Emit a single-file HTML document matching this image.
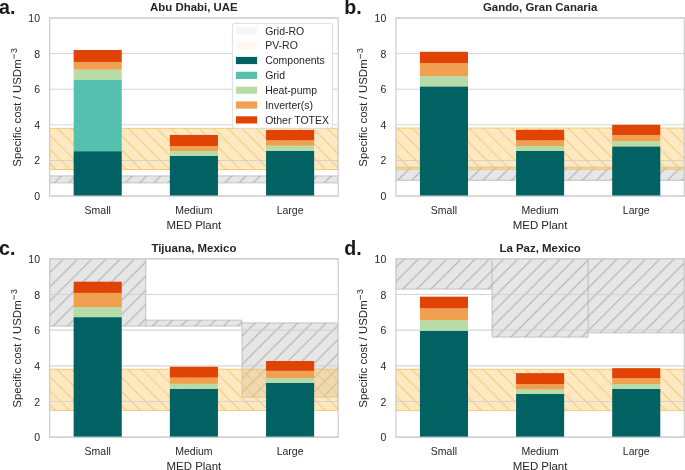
<!DOCTYPE html>
<html><head><meta charset="utf-8"><style>
html,body{margin:0;padding:0;background:#fff;}
svg{display:block;will-change:transform;}
text{font-family:"Liberation Sans",sans-serif;fill:#262626;}
.tk{font-size:10.5px;}
.lg{font-size:10.5px;}
.lb{font-size:11.45px;}
.sup{font-size:8.8px;}
.tt{font-size:11.45px;font-weight:bold;}
.pl{font-size:19.6px;font-weight:bold;fill:#1a1a1a;}
</style></head><body>
<svg width="685" height="470" viewBox="0 0 685 470">
<defs>
<pattern id="hg0" patternUnits="userSpaceOnUse" width="14.2" height="14.2" x="10.1" y="0">
<path d="M-1,1 L1,-1 M0,14.2 L14.2,0 M13.2,15.2 L15.2,13.2" stroke="#a0a0a0" stroke-width="1.05" stroke-opacity="0.8"/></pattern>
<pattern id="ho0" patternUnits="userSpaceOnUse" width="14.2" height="14.2" x="0.0" y="0">
<path d="M-1,13.2 L1,15.2 M0,0 L14.2,14.2 M13.2,-1 L15.2,1" stroke="#edc96c" stroke-width="1.05" stroke-opacity="0.9"/></pattern>
<pattern id="hg1" patternUnits="userSpaceOnUse" width="14.2" height="14.2" x="10.1" y="0">
<path d="M-1,1 L1,-1 M0,14.2 L14.2,0 M13.2,15.2 L15.2,13.2" stroke="#a0a0a0" stroke-width="1.05" stroke-opacity="0.8"/></pattern>
<pattern id="ho1" patternUnits="userSpaceOnUse" width="14.2" height="14.2" x="0.0" y="0">
<path d="M-1,13.2 L1,15.2 M0,0 L14.2,14.2 M13.2,-1 L15.2,1" stroke="#edc96c" stroke-width="1.05" stroke-opacity="0.9"/></pattern>
<pattern id="hg2" patternUnits="userSpaceOnUse" width="14.2" height="14.2" x="10.1" y="0">
<path d="M-1,1 L1,-1 M0,14.2 L14.2,0 M13.2,15.2 L15.2,13.2" stroke="#a0a0a0" stroke-width="1.05" stroke-opacity="0.8"/></pattern>
<pattern id="ho2" patternUnits="userSpaceOnUse" width="14.2" height="14.2" x="0.0" y="0">
<path d="M-1,13.2 L1,15.2 M0,0 L14.2,14.2 M13.2,-1 L15.2,1" stroke="#edc96c" stroke-width="1.05" stroke-opacity="0.9"/></pattern>
<pattern id="hg3" patternUnits="userSpaceOnUse" width="14.2" height="14.2" x="10.1" y="0">
<path d="M-1,1 L1,-1 M0,14.2 L14.2,0 M13.2,15.2 L15.2,13.2" stroke="#a0a0a0" stroke-width="1.05" stroke-opacity="0.8"/></pattern>
<pattern id="ho3" patternUnits="userSpaceOnUse" width="14.2" height="14.2" x="0.0" y="0">
<path d="M-1,13.2 L1,15.2 M0,0 L14.2,14.2 M13.2,-1 L15.2,1" stroke="#edc96c" stroke-width="1.05" stroke-opacity="0.9"/></pattern>
<clipPath id="clip0"><rect x="49.6" y="17.95" width="288.6" height="178.1"/></clipPath>
<clipPath id="clip1"><rect x="395.9" y="17.95" width="288.4" height="178.1"/></clipPath>
<clipPath id="clip2"><rect x="49.6" y="258.85" width="288.6" height="178.3"/></clipPath>
<clipPath id="clip3"><rect x="395.9" y="258.85" width="288.4" height="178.3"/></clipPath>
</defs>
<rect width="685" height="470" fill="#fff"/>
<g clip-path="url(#clip0)">
<rect x="49.6" y="175.8" width="288.6" height="7" fill="rgba(128,128,128,0.2)"/>
<rect x="49.6" y="175.8" width="288.6" height="7" fill="url(#hg0)"/>
<path d="M49.6,175.8H338.2M49.6,182.8H338.2M49.6,175.8V182.8M338.2,175.8V182.8" fill="none" stroke="rgba(160,160,160,0.45)" stroke-width="1.3"/>
<rect x="49.6" y="128.37" width="288.6" height="41.14" fill="rgba(253,200,110,0.42)"/>
<rect x="49.6" y="128.37" width="288.6" height="41.14" fill="url(#ho0)"/>
<rect x="49.6" y="128.37" width="288.6" height="41.14" fill="none" stroke="rgba(240,190,90,0.75)" stroke-width="1"/>
</g>
<line x1="49.6" x2="338.2" y1="196.05" y2="196.05" stroke="#cfcfcf" stroke-width="1.1" stroke-opacity="0.85"/>
<line x1="49.6" x2="338.2" y1="160.43" y2="160.43" stroke="#cfcfcf" stroke-width="1.1" stroke-opacity="0.85"/>
<line x1="49.6" x2="338.2" y1="124.81" y2="124.81" stroke="#cfcfcf" stroke-width="1.1" stroke-opacity="0.85"/>
<line x1="49.6" x2="338.2" y1="89.19" y2="89.19" stroke="#cfcfcf" stroke-width="1.1" stroke-opacity="0.85"/>
<line x1="49.6" x2="338.2" y1="53.57" y2="53.57" stroke="#cfcfcf" stroke-width="1.1" stroke-opacity="0.85"/>
<line x1="49.6" x2="338.2" y1="17.95" y2="17.95" stroke="#cfcfcf" stroke-width="1.1" stroke-opacity="0.85"/>
<rect x="73.65" y="151.17" width="48.1" height="44.88" fill="#026263"/>
<rect x="73.65" y="79.93" width="48.1" height="71.24" fill="#55c0ad"/>
<rect x="73.65" y="69.6" width="48.1" height="10.33" fill="#b8dca8"/>
<rect x="73.65" y="61.94" width="48.1" height="7.66" fill="#f0a050"/>
<rect x="73.65" y="50.01" width="48.1" height="11.93" fill="#e04404"/>
<rect x="169.85" y="155.8" width="48.1" height="40.25" fill="#026263"/>
<rect x="169.85" y="150.99" width="48.1" height="4.81" fill="#b8dca8"/>
<rect x="169.85" y="146" width="48.1" height="4.99" fill="#f0a050"/>
<rect x="169.85" y="134.96" width="48.1" height="11.04" fill="#e04404"/>
<rect x="266.05" y="150.81" width="48.1" height="45.24" fill="#026263"/>
<rect x="266.05" y="145.65" width="48.1" height="5.16" fill="#b8dca8"/>
<rect x="266.05" y="140.3" width="48.1" height="5.34" fill="#f0a050"/>
<rect x="266.05" y="129.97" width="48.1" height="10.33" fill="#e04404"/>
<rect x="49.6" y="17.95" width="288.6" height="178.1" fill="none" stroke="#cccccc" stroke-width="1.2"/>
<text x="40" y="200.1" text-anchor="end" class="tk">0</text>
<text x="40" y="164.48" text-anchor="end" class="tk">2</text>
<text x="40" y="128.86" text-anchor="end" class="tk">4</text>
<text x="40" y="93.24" text-anchor="end" class="tk">6</text>
<text x="40" y="57.62" text-anchor="end" class="tk">8</text>
<text x="40" y="22" text-anchor="end" class="tk">10</text>
<text x="97.7" y="214.05" text-anchor="middle" class="tk">Small</text>
<text x="193.9" y="214.05" text-anchor="middle" class="tk">Medium</text>
<text x="290.1" y="214.05" text-anchor="middle" class="tk">Large</text>
<text x="193.9" y="228.85" text-anchor="middle" class="lb">MED Plant</text>
<text transform="translate(20.9,166.75) rotate(-90)" class="lb">Specific cost / USDm</text>
<line x1="14.1" x2="14.1" y1="58.8" y2="54" stroke="#262626" stroke-width="0.75"/>
<text transform="translate(17,53.1) rotate(-90)" class="sup">3</text>
<text x="193.9" y="11.25" text-anchor="middle" class="tt">Abu Dhabi, UAE</text>
<text x="-1" y="13.6" class="pl">a.</text>
<g clip-path="url(#clip1)">
<rect x="395.9" y="167.2" width="288.4" height="13.18" fill="rgba(128,128,128,0.2)"/>
<rect x="395.9" y="167.2" width="288.4" height="13.18" fill="url(#hg1)"/>
<path d="M395.9,167.2H684.3M395.9,180.38H684.3M395.9,167.2V180.38M684.3,167.2V180.38" fill="none" stroke="rgba(160,160,160,0.45)" stroke-width="1.3"/>
<rect x="395.9" y="128.02" width="288.4" height="41.32" fill="rgba(253,200,110,0.42)"/>
<rect x="395.9" y="128.02" width="288.4" height="41.32" fill="url(#ho1)"/>
<rect x="395.9" y="128.02" width="288.4" height="41.32" fill="none" stroke="rgba(240,190,90,0.75)" stroke-width="1"/>
</g>
<line x1="395.9" x2="684.3" y1="196.05" y2="196.05" stroke="#cfcfcf" stroke-width="1.1" stroke-opacity="0.85"/>
<line x1="395.9" x2="684.3" y1="160.43" y2="160.43" stroke="#cfcfcf" stroke-width="1.1" stroke-opacity="0.85"/>
<line x1="395.9" x2="684.3" y1="124.81" y2="124.81" stroke="#cfcfcf" stroke-width="1.1" stroke-opacity="0.85"/>
<line x1="395.9" x2="684.3" y1="89.19" y2="89.19" stroke="#cfcfcf" stroke-width="1.1" stroke-opacity="0.85"/>
<line x1="395.9" x2="684.3" y1="53.57" y2="53.57" stroke="#cfcfcf" stroke-width="1.1" stroke-opacity="0.85"/>
<line x1="395.9" x2="684.3" y1="17.95" y2="17.95" stroke="#cfcfcf" stroke-width="1.1" stroke-opacity="0.85"/>
<rect x="419.93" y="86.34" width="48.07" height="109.71" fill="#026263"/>
<rect x="419.93" y="76.01" width="48.07" height="10.33" fill="#b8dca8"/>
<rect x="419.93" y="63.01" width="48.07" height="13" fill="#f0a050"/>
<rect x="419.93" y="51.79" width="48.07" height="11.22" fill="#e04404"/>
<rect x="516.07" y="150.99" width="48.07" height="45.06" fill="#026263"/>
<rect x="516.07" y="146" width="48.07" height="4.99" fill="#b8dca8"/>
<rect x="516.07" y="140.3" width="48.07" height="5.7" fill="#f0a050"/>
<rect x="516.07" y="129.8" width="48.07" height="10.51" fill="#e04404"/>
<rect x="612.2" y="146.36" width="48.07" height="49.69" fill="#026263"/>
<rect x="612.2" y="141.2" width="48.07" height="5.16" fill="#b8dca8"/>
<rect x="612.2" y="134.96" width="48.07" height="6.23" fill="#f0a050"/>
<rect x="612.2" y="124.81" width="48.07" height="10.15" fill="#e04404"/>
<rect x="395.9" y="17.95" width="288.4" height="178.1" fill="none" stroke="#cccccc" stroke-width="1.2"/>
<text x="386.3" y="200.1" text-anchor="end" class="tk">0</text>
<text x="386.3" y="164.48" text-anchor="end" class="tk">2</text>
<text x="386.3" y="128.86" text-anchor="end" class="tk">4</text>
<text x="386.3" y="93.24" text-anchor="end" class="tk">6</text>
<text x="386.3" y="57.62" text-anchor="end" class="tk">8</text>
<text x="386.3" y="22" text-anchor="end" class="tk">10</text>
<text x="443.97" y="214.05" text-anchor="middle" class="tk">Small</text>
<text x="540.1" y="214.05" text-anchor="middle" class="tk">Medium</text>
<text x="636.23" y="214.05" text-anchor="middle" class="tk">Large</text>
<text x="540.1" y="228.85" text-anchor="middle" class="lb">MED Plant</text>
<text transform="translate(367.2,166.75) rotate(-90)" class="lb">Specific cost / USDm</text>
<line x1="360.4" x2="360.4" y1="58.8" y2="54" stroke="#262626" stroke-width="0.75"/>
<text transform="translate(363.3,53.1) rotate(-90)" class="sup">3</text>
<text x="540.1" y="11.25" text-anchor="middle" class="tt">Gando, Gran Canaria</text>
<text x="344.2" y="13.6" class="pl">b.</text>
<g clip-path="url(#clip2)">
<rect x="49.6" y="249.94" width="96.2" height="76.13" fill="rgba(128,128,128,0.2)"/>
<rect x="49.6" y="249.94" width="96.2" height="76.13" fill="url(#hg2)"/>
<rect x="145.8" y="320.19" width="96.2" height="5.88" fill="rgba(128,128,128,0.2)"/>
<rect x="145.8" y="320.19" width="96.2" height="5.88" fill="url(#hg2)"/>
<rect x="242" y="322.86" width="96.2" height="74.17" fill="rgba(128,128,128,0.2)"/>
<rect x="242" y="322.86" width="96.2" height="74.17" fill="url(#hg2)"/>
<path d="M49.6,249.94H145.8M49.6,326.07H145.8M145.8,320.19H242M145.8,326.07H242M242,322.86H338.2M242,397.03H338.2M49.6,249.94V326.07M145.8,249.94V326.07M242,320.19V397.03M338.2,322.86V397.03" fill="none" stroke="rgba(160,160,160,0.45)" stroke-width="1.3"/>
<rect x="49.6" y="369.22" width="288.6" height="41.19" fill="rgba(253,200,110,0.42)"/>
<rect x="49.6" y="369.22" width="288.6" height="41.19" fill="url(#ho2)"/>
<rect x="49.6" y="369.22" width="288.6" height="41.19" fill="none" stroke="rgba(240,190,90,0.75)" stroke-width="1"/>
</g>
<line x1="49.6" x2="338.2" y1="437.15" y2="437.15" stroke="#cfcfcf" stroke-width="1.1" stroke-opacity="0.85"/>
<line x1="49.6" x2="338.2" y1="401.49" y2="401.49" stroke="#cfcfcf" stroke-width="1.1" stroke-opacity="0.85"/>
<line x1="49.6" x2="338.2" y1="365.83" y2="365.83" stroke="#cfcfcf" stroke-width="1.1" stroke-opacity="0.85"/>
<line x1="49.6" x2="338.2" y1="330.17" y2="330.17" stroke="#cfcfcf" stroke-width="1.1" stroke-opacity="0.85"/>
<line x1="49.6" x2="338.2" y1="294.51" y2="294.51" stroke="#cfcfcf" stroke-width="1.1" stroke-opacity="0.85"/>
<line x1="49.6" x2="338.2" y1="258.85" y2="258.85" stroke="#cfcfcf" stroke-width="1.1" stroke-opacity="0.85"/>
<rect x="73.65" y="317.15" width="48.1" height="120" fill="#026263"/>
<rect x="73.65" y="306.99" width="48.1" height="10.16" fill="#b8dca8"/>
<rect x="73.65" y="292.91" width="48.1" height="14.09" fill="#f0a050"/>
<rect x="73.65" y="281.67" width="48.1" height="11.23" fill="#e04404"/>
<rect x="169.85" y="388.83" width="48.1" height="48.32" fill="#026263"/>
<rect x="169.85" y="383.84" width="48.1" height="4.99" fill="#b8dca8"/>
<rect x="169.85" y="377.6" width="48.1" height="6.24" fill="#f0a050"/>
<rect x="169.85" y="366.72" width="48.1" height="10.88" fill="#e04404"/>
<rect x="266.05" y="382.95" width="48.1" height="54.2" fill="#026263"/>
<rect x="266.05" y="377.95" width="48.1" height="4.99" fill="#b8dca8"/>
<rect x="266.05" y="370.82" width="48.1" height="7.13" fill="#f0a050"/>
<rect x="266.05" y="361.02" width="48.1" height="9.81" fill="#e04404"/>
<rect x="49.6" y="258.85" width="288.6" height="178.3" fill="none" stroke="#cccccc" stroke-width="1.2"/>
<text x="40" y="441.2" text-anchor="end" class="tk">0</text>
<text x="40" y="405.54" text-anchor="end" class="tk">2</text>
<text x="40" y="369.88" text-anchor="end" class="tk">4</text>
<text x="40" y="334.22" text-anchor="end" class="tk">6</text>
<text x="40" y="298.56" text-anchor="end" class="tk">8</text>
<text x="40" y="262.9" text-anchor="end" class="tk">10</text>
<text x="97.7" y="455.15" text-anchor="middle" class="tk">Small</text>
<text x="193.9" y="455.15" text-anchor="middle" class="tk">Medium</text>
<text x="290.1" y="455.15" text-anchor="middle" class="tk">Large</text>
<text x="193.9" y="469.95" text-anchor="middle" class="lb">MED Plant</text>
<text transform="translate(20.9,407.75) rotate(-90)" class="lb">Specific cost / USDm</text>
<line x1="14.1" x2="14.1" y1="299.8" y2="295" stroke="#262626" stroke-width="0.75"/>
<text transform="translate(17,294.1) rotate(-90)" class="sup">3</text>
<text x="193.9" y="252.15" text-anchor="middle" class="tt">Tijuana, Mexico</text>
<text x="-1" y="254.5" class="pl">c.</text>
<g clip-path="url(#clip3)">
<rect x="395.9" y="249.94" width="96.13" height="39.23" fill="rgba(128,128,128,0.2)"/>
<rect x="395.9" y="249.94" width="96.13" height="39.23" fill="url(#hg3)"/>
<rect x="492.03" y="249.94" width="96.13" height="87.19" fill="rgba(128,128,128,0.2)"/>
<rect x="492.03" y="249.94" width="96.13" height="87.19" fill="url(#hg3)"/>
<rect x="588.17" y="249.94" width="96.13" height="82.91" fill="rgba(128,128,128,0.2)"/>
<rect x="588.17" y="249.94" width="96.13" height="82.91" fill="url(#hg3)"/>
<path d="M395.9,249.94H492.03M395.9,289.16H492.03M492.03,249.94H588.17M492.03,337.12H588.17M588.17,249.94H684.3M588.17,332.84H684.3M395.9,249.94V289.16M492.03,249.94V337.12M588.17,249.94V337.12M684.3,249.94V332.84" fill="none" stroke="rgba(160,160,160,0.45)" stroke-width="1.3"/>
<rect x="395.9" y="369.22" width="288.4" height="41.37" fill="rgba(253,200,110,0.42)"/>
<rect x="395.9" y="369.22" width="288.4" height="41.37" fill="url(#ho3)"/>
<rect x="395.9" y="369.22" width="288.4" height="41.37" fill="none" stroke="rgba(240,190,90,0.75)" stroke-width="1"/>
</g>
<line x1="395.9" x2="684.3" y1="437.15" y2="437.15" stroke="#cfcfcf" stroke-width="1.1" stroke-opacity="0.85"/>
<line x1="395.9" x2="684.3" y1="401.49" y2="401.49" stroke="#cfcfcf" stroke-width="1.1" stroke-opacity="0.85"/>
<line x1="395.9" x2="684.3" y1="365.83" y2="365.83" stroke="#cfcfcf" stroke-width="1.1" stroke-opacity="0.85"/>
<line x1="395.9" x2="684.3" y1="330.17" y2="330.17" stroke="#cfcfcf" stroke-width="1.1" stroke-opacity="0.85"/>
<line x1="395.9" x2="684.3" y1="294.51" y2="294.51" stroke="#cfcfcf" stroke-width="1.1" stroke-opacity="0.85"/>
<line x1="395.9" x2="684.3" y1="258.85" y2="258.85" stroke="#cfcfcf" stroke-width="1.1" stroke-opacity="0.85"/>
<rect x="419.93" y="330.7" width="48.07" height="106.45" fill="#026263"/>
<rect x="419.93" y="320.19" width="48.07" height="10.52" fill="#b8dca8"/>
<rect x="419.93" y="308.42" width="48.07" height="11.77" fill="#f0a050"/>
<rect x="419.93" y="296.65" width="48.07" height="11.77" fill="#e04404"/>
<rect x="516.07" y="394" width="48.07" height="43.15" fill="#026263"/>
<rect x="516.07" y="389.37" width="48.07" height="4.64" fill="#b8dca8"/>
<rect x="516.07" y="384.02" width="48.07" height="5.35" fill="#f0a050"/>
<rect x="516.07" y="373.14" width="48.07" height="10.88" fill="#e04404"/>
<rect x="612.2" y="389.01" width="48.07" height="48.14" fill="#026263"/>
<rect x="612.2" y="384.02" width="48.07" height="4.99" fill="#b8dca8"/>
<rect x="612.2" y="378.13" width="48.07" height="5.88" fill="#f0a050"/>
<rect x="612.2" y="368.15" width="48.07" height="9.98" fill="#e04404"/>
<rect x="395.9" y="258.85" width="288.4" height="178.3" fill="none" stroke="#cccccc" stroke-width="1.2"/>
<text x="386.3" y="441.2" text-anchor="end" class="tk">0</text>
<text x="386.3" y="405.54" text-anchor="end" class="tk">2</text>
<text x="386.3" y="369.88" text-anchor="end" class="tk">4</text>
<text x="386.3" y="334.22" text-anchor="end" class="tk">6</text>
<text x="386.3" y="298.56" text-anchor="end" class="tk">8</text>
<text x="386.3" y="262.9" text-anchor="end" class="tk">10</text>
<text x="443.97" y="455.15" text-anchor="middle" class="tk">Small</text>
<text x="540.1" y="455.15" text-anchor="middle" class="tk">Medium</text>
<text x="636.23" y="455.15" text-anchor="middle" class="tk">Large</text>
<text x="540.1" y="469.95" text-anchor="middle" class="lb">MED Plant</text>
<text transform="translate(367.2,407.75) rotate(-90)" class="lb">Specific cost / USDm</text>
<line x1="360.4" x2="360.4" y1="299.8" y2="295" stroke="#262626" stroke-width="0.75"/>
<text transform="translate(363.3,294.1) rotate(-90)" class="sup">3</text>
<text x="540.1" y="252.15" text-anchor="middle" class="tt">La Paz, Mexico</text>
<text x="344.2" y="254.5" class="pl">d.</text>
<rect x="232.4" y="23.3" width="100.2" height="105" rx="2.5" fill="rgba(255,255,255,0.92)" stroke="#d9d9d9" stroke-width="0.9"/>
<rect x="235.9" y="27.2" width="21.2" height="7.2" fill="#f6f6f6"/>
<text x="265.2" y="34.6" class="lg">Grid-RO</text>
<rect x="235.9" y="42.05" width="21.2" height="7.2" fill="#fff8ec"/>
<text x="265.2" y="49.45" class="lg">PV-RO</text>
<rect x="235.9" y="56.9" width="21.2" height="7.2" fill="#026263"/>
<text x="265.2" y="64.3" class="lg">Components</text>
<rect x="235.9" y="71.75" width="21.2" height="7.2" fill="#55c0ad"/>
<text x="265.2" y="79.15" class="lg">Grid</text>
<rect x="235.9" y="86.6" width="21.2" height="7.2" fill="#b8dca8"/>
<text x="265.2" y="94" class="lg">Heat-pump</text>
<rect x="235.9" y="101.45" width="21.2" height="7.2" fill="#f0a050"/>
<text x="265.2" y="108.85" class="lg">Inverter(s)</text>
<rect x="235.9" y="116.3" width="21.2" height="7.2" fill="#e04404"/>
<text x="265.2" y="123.7" class="lg">Other TOTEX</text>
</svg>
</body></html>
